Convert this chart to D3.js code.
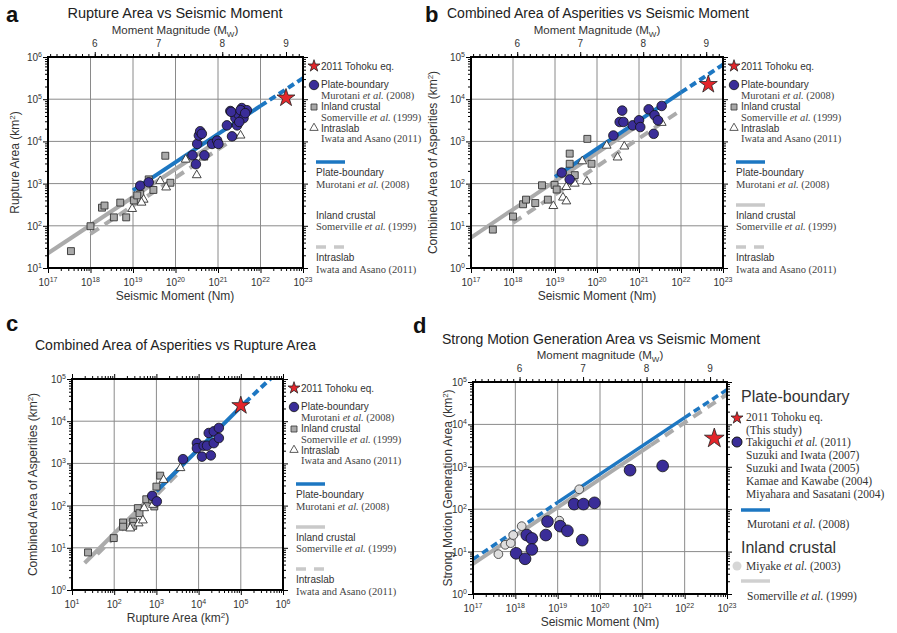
<!DOCTYPE html>
<html>
<head>
<meta charset="utf-8">
<script src="https://cdn.jsdelivr.net/npm/d3@7"></script>
<style>
  body { margin: 0; background: #fff; }
</style>
</head>
<body>
<svg id="fig" width="897" height="633"></svg>
<script>
// ---- data, all values as log10 (x, y) ----
// panel a : rupture area (km2) vs seismic moment (Nm)
var aCircles = [[19.17,2.95],[19.37,3.03],[20.40,3.67],[20.48,3.46],[20.51,3.94],[20.55,4.14],[20.58,4.24],[20.62,4.18],
  [20.68,3.67],[20.86,3.94],[20.98,4.02],[21.01,3.94],[21.21,4.38],[21.33,4.12],[21.29,4.72],[21.41,4.55],[21.45,4.38],
  [21.49,4.63],[21.56,4.79],[21.60,4.55],[21.68,4.74],[21.50,4.46],[21.31,4.70],[21.53,4.74],[21.64,4.67]];
var aSquares = [[17.54,1.40],[18.00,1.99],[18.27,2.43],[18.33,2.48],[18.70,2.55],[18.55,2.20],[18.84,2.20],[19.02,2.60],
  [19.17,2.75],[19.37,3.10],[19.48,2.85],[19.88,3.02],[19.76,3.66],[19.10,2.72]];
var aTriangles = [[18.98,2.40],[19.25,2.62],[19.20,2.55],[19.64,3.06],[19.78,2.91],[20.24,3.57],[20.50,3.20],[20.66,3.62],[21.53,4.14]];
var aStar = [[22.60,5.03]];
var aBlueSolid = [[19.0,2.84],[22.0,4.84]];
var aBlueDash = [[22.0,4.84],[23.0,5.50]];
var aGraySolid = [[17.0,1.35],[20.8,3.88]];
var aGrayDash = [[18.0,1.81],[21.6,4.21]];

// panel b : combined area of asperities (km2) vs seismic moment (Nm)
var bCircles = [[19.16,2.26],[19.35,2.10],[20.39,3.14],[20.60,3.73],[20.54,3.46],[20.63,3.46],[20.85,3.38],[21.00,3.50],
  [21.03,3.34],[21.23,3.76],[21.35,3.18],[21.37,3.62],[21.45,3.50],[21.54,3.84]];
var bSquares = [[17.52,0.91],[18.00,1.22],[18.24,1.51],[18.31,1.62],[18.53,1.54],[18.69,1.96],[18.83,1.62],[18.99,1.97],
  [19.04,1.86],[19.35,2.71],[19.35,2.47],[19.47,2.20],[19.87,2.47],[19.77,3.06]];
var bTriangles = [[18.96,1.47],[19.19,1.67],[19.27,1.58],[19.27,1.92],[19.47,2.00],[19.65,2.53],[19.76,2.05],[20.23,2.90],
  [20.49,2.62],[20.65,2.88],[21.54,3.44]];
var bStar = [[22.65,4.35]];
var bBlueSolid = [[19.0,2.16],[22.0,4.16]];
var bBlueDash = [[22.0,4.16],[23.0,4.82]];
var bGraySolid = [[17.0,0.72],[21.0,3.39]];
var bGrayDash = [[18.0,1.07],[22.0,3.74]];

// panel c : combined area of asperities vs rupture area (km2)
var cCircles = [[2.90,2.23],[3.01,2.10],[3.63,3.10],[3.96,3.48],[3.96,3.36],[4.08,3.16],[4.12,3.42],[4.20,3.42],[4.24,3.72],
  [4.36,3.76],[4.36,3.48],[4.48,3.84],[4.48,3.60],[4.29,3.19]];
var cSquares = [[1.38,0.89],[1.99,1.23],[2.21,1.60],[2.21,1.50],[2.45,1.62],[2.45,1.52],[2.56,1.94],[2.60,1.82],[2.76,2.15],
  [2.90,2.14],[2.95,1.98],[3.00,2.45],[3.09,2.71]];
var cTriangles = [[2.38,1.46],[2.58,1.58],[2.68,1.65],[2.71,1.94],[2.92,2.02],[3.17,2.61],[3.57,2.89]];
var cStar = [[5.00,4.37]];
var cBlueSolid = [[3.0,2.34],[5.1,4.44]];
var cBlueDash = [[5.1,4.44],[5.75,5.05]];
var cGraySolid = [[1.3,0.64],[3.6,2.94]];
var cGrayDash = [[1.6,0.85],[3.6,2.85]];

// panel d : strong motion generation area (km2) vs seismic moment (Nm)
var dCircles = [[18.02,0.96],[18.23,0.83],[18.27,1.39],[18.39,1.31],[18.39,1.05],[18.72,1.39],[18.76,1.71],[19.06,1.60],
  [19.23,1.49],[19.39,2.12],[19.61,2.12],[19.87,2.15],[19.58,1.27],[20.71,2.92],[21.48,3.02]];
var dMiyake = [[17.60,0.94],[17.76,1.16],[17.89,1.20],[17.95,1.39],[18.15,1.60],[19.04,1.73],[19.51,2.47]];
var dStar = [[22.70,3.67]];
var dBlueDashL = [[17.0,0.82],[19.0,2.16]];
var dBlueSolid = [[19.0,2.16],[22.0,4.16]];
var dBlueDashR = [[22.0,4.16],[23.0,4.82]];
var dGraySolid = [[17.0,0.71],[21.2,3.51]];
var dGrayDash = [[21.2,3.51],[23.0,4.71]];

var mwMajor = [6, 7, 8, 9];

// ---- styling ----
var svg = d3.select('#fig');
var SANS = "'Liberation Sans', Arial, Helvetica, sans-serif";
var SERIF = "'Liberation Serif', 'Times New Roman', serif";
var BLUE = '#1d77c2', GRAY = '#ababab', LGRAY = '#c9c9c9', PURPLE = '#3a2d98', RED = '#e3262b';
var TXT = '#333';

var lineStyles = {
  blue:     {stroke: BLUE, w: 4, dash: null},
  blueDash: {stroke: BLUE, w: 4, dash: '7,4'},
  gray:     {stroke: GRAY, w: 4, dash: null},
  grayDash: {stroke: GRAY, w: 4, dash: '10,7'}
};

function mwOf(logm0) { return (logm0 - 9.1) / 1.5; }

function sup(sel, base, e, fs) {
  sel.append('tspan').text(base);
  sel.append('tspan').attr('dy', -4).attr('font-size', fs || 7).text(e);
}

function cite(sel, str) {
  var parts = str.split('et al.');
  sel.append('tspan').text(parts[0]);
  if (parts.length > 1) {
    sel.append('tspan').attr('font-style', 'italic').text('et al.');
    sel.append('tspan').text(parts[1]);
  }
}

function drawPanel(p) {
  var x = d3.scaleLog().domain(p.xdom).range([p.x0, p.x1]);
  var y = d3.scaleLog().domain(p.ydom).range([p.y1, p.y0]);
  var g = svg.append('g');
  var xlo = Math.round(Math.log10(p.xdom[0])), xhi = Math.round(Math.log10(p.xdom[1]));
  var ylo = Math.round(Math.log10(p.ydom[0])), yhi = Math.round(Math.log10(p.ydom[1]));
  var xDec = d3.range(xlo, xhi + 1), yDec = d3.range(ylo, yhi + 1);
  var xMinor = [], yMinor = [];
  xDec.slice(0, -1).forEach(function(e) { for (var k = 2; k < 10; k++) xMinor.push(k * Math.pow(10, e)); });
  yDec.slice(0, -1).forEach(function(e) { for (var k = 2; k < 10; k++) yMinor.push(k * Math.pow(10, e)); });
  var xMaj = xDec.map(function(e) { return Math.pow(10, e); });
  var yMaj = yDec.map(function(e) { return Math.pow(10, e); });

  // grid
  g.selectAll('.gx').data(xMaj).enter().append('line')
    .attr('x1', function(d) { return x(d); }).attr('x2', function(d) { return x(d); })
    .attr('y1', p.y0).attr('y2', p.y1).attr('stroke', '#8a8a8a').attr('stroke-width', 1);
  g.selectAll('.gy').data(yMaj).enter().append('line')
    .attr('y1', function(d) { return y(d); }).attr('y2', function(d) { return y(d); })
    .attr('x1', p.x0).attr('x2', p.x1).attr('stroke', '#8a8a8a').attr('stroke-width', 1);

  // clip
  var cid = 'clip' + p.id;
  svg.append('clipPath').attr('id', cid).append('rect')
    .attr('x', p.x0).attr('y', p.y0).attr('width', p.x1 - p.x0).attr('height', p.y1 - p.y0);

  var line = d3.line()
    .x(function(d) { return x(Math.pow(10, d[0])); })
    .y(function(d) { return y(Math.pow(10, d[1])); });
  var lg = g.append('g').attr('clip-path', 'url(#' + cid + ')');
  p.lines.forEach(function(l) {
    var st = lineStyles[l.style];
    lg.append('path').datum(l.pts).attr('d', line)
      .attr('fill', 'none').attr('stroke', st.stroke).attr('stroke-width', l.w || st.w)
      .attr('stroke-dasharray', st.dash);
  });

  // markers
  p.marks.forEach(function(m) {
    g.selectAll(null).data(m.data).enter().append('path')
      .attr('d', d3.symbol().type(m.type).size(m.size))
      .attr('transform', function(d) {
        return 'translate(' + x(Math.pow(10, d[0])) + ',' + y(Math.pow(10, d[1])) + ')';
      })
      .attr('fill', m.fill).attr('stroke', m.stroke).attr('stroke-width', m.sw || 0.8);
  });

  // frame
  g.append('rect').attr('x', p.x0).attr('y', p.y0).attr('width', p.x1 - p.x0).attr('height', p.y1 - p.y0)
    .attr('fill', 'none').attr('stroke', '#000').attr('stroke-width', 2);

  function ticks(axis, tr) {
    g.append('g').attr('transform', tr).call(axis)
      .call(function(s) { s.select('.domain').remove(); })
      .selectAll('line').attr('stroke', '#000');
  }
  ticks(d3.axisBottom(x).tickValues(xMaj).tickSize(5).tickFormat(''), 'translate(0,' + p.y1 + ')');
  ticks(d3.axisBottom(x).tickValues(xMinor).tickSize(3).tickFormat(''), 'translate(0,' + p.y1 + ')');
  ticks(d3.axisLeft(y).tickValues(yMaj).tickSize(5).tickFormat(''), 'translate(' + p.x0 + ',0)');
  ticks(d3.axisLeft(y).tickValues(yMinor).tickSize(3).tickFormat(''), 'translate(' + p.x0 + ',0)');
  ticks(d3.axisRight(y).tickValues(yMaj).tickSize(5).tickFormat(''), 'translate(' + p.x1 + ',0)');
  ticks(d3.axisRight(y).tickValues(yMinor).tickSize(3).tickFormat(''), 'translate(' + p.x1 + ',0)');

  if (p.mw) {
    var mw = d3.scaleLinear().domain([mwOf(xlo), mwOf(xhi)]).range([p.x0, p.x1]);
    var mwMinor = d3.range(53, 93).map(function(v) { return v / 10; });
    ticks(d3.axisTop(mw).tickValues(mwMajor).tickSize(5).tickFormat(''), 'translate(0,' + p.y0 + ')');
    ticks(d3.axisTop(mw).tickValues(mwMinor).tickSize(3).tickFormat(''), 'translate(0,' + p.y0 + ')');
    g.selectAll('.mwl').data(mwMajor).enter().append('text')
      .attr('x', function(d) { return mw(d); }).attr('y', p.y0 - 10)
      .attr('text-anchor', 'middle').attr('font-family', SANS).attr('font-size', 10).attr('fill', TXT)
      .text(function(d) { return d; });
    var mt = g.append('text').attr('x', p.cx).attr('y', p.y0 - 23).attr('text-anchor', 'middle')
      .attr('font-family', SANS).attr('font-size', 11.5).attr('fill', TXT);
    mt.append('tspan').text(p.mwTitle);
    mt.append('tspan').attr('dy', 3).attr('font-size', 8).text('W');
    mt.append('tspan').attr('dy', -3).text(')');
  } else {
    ticks(d3.axisTop(x).tickValues(xMaj).tickSize(5).tickFormat(''), 'translate(0,' + p.y0 + ')');
    ticks(d3.axisTop(x).tickValues(xMinor).tickSize(3).tickFormat(''), 'translate(0,' + p.y0 + ')');
  }

  // tick labels
  xDec.forEach(function(e) {
    var t = g.append('text').attr('x', x(Math.pow(10, e))).attr('y', p.y1 + 18).attr('text-anchor', 'middle')
      .attr('font-family', SANS).attr('font-size', 10).attr('fill', TXT);
    sup(t, '10', e);
  });
  yDec.forEach(function(e) {
    var t = g.append('text').attr('x', p.x0 - 6).attr('y', y(Math.pow(10, e)) + 4).attr('text-anchor', 'end')
      .attr('font-family', SANS).attr('font-size', 10).attr('fill', TXT);
    sup(t, '10', e);
  });

  // titles
  g.append('text').attr('x', p.letter[0]).attr('y', p.letter[1]).attr('font-family', SANS)
    .attr('font-size', 22).attr('font-weight', 'bold').attr('fill', '#111').text(p.id);
  g.append('text').attr('x', p.titlePos[0]).attr('y', p.titlePos[1]).attr('text-anchor', p.titleAnchor || 'middle')
    .attr('font-family', SANS).attr('font-size', p.titleSize).attr('fill', '#222').text(p.title);
  var xl = g.append('text').attr('x', p.cx).attr('y', p.y1 + 32).attr('text-anchor', 'middle')
    .attr('font-family', SANS).attr('font-size', 12).attr('fill', TXT);
  xl.append('tspan').text(p.xlabel[0]);
  if (p.xlabel.length > 1) {
    xl.append('tspan').attr('dy', -4).attr('font-size', 8).text(p.xlabel[1]);
    xl.append('tspan').attr('dy', 4).text(p.xlabel[2]);
  }
  var yl = g.append('text').attr('transform', 'translate(' + p.ylabelX + ',' + ((p.y0 + p.y1) / 2) + ') rotate(-90)')
    .attr('text-anchor', 'middle').attr('font-family', SANS).attr('font-size', 12).attr('fill', TXT);
  yl.append('tspan').text(p.ylabel[0]);
  yl.append('tspan').attr('dy', -4).attr('font-size', 8).text(p.ylabel[1]);
  yl.append('tspan').attr('dy', 4).text(p.ylabel[2]);
}

var starMark = function(d, size) { return {data: d, type: d3.symbolStar, size: size, fill: RED, stroke: '#222', sw: 0.8}; };
var circMark = function(d, size) { return {data: d, type: d3.symbolCircle, size: size, fill: PURPLE, stroke: '#111', sw: 0.8}; };
var sqMark = function(d) { return {data: d, type: d3.symbolSquare, size: 48, fill: '#a9a9a9', stroke: '#333', sw: 0.9}; };
var triMark = function(d) { return {data: d, type: d3.symbolTriangle, size: 34, fill: '#fff', stroke: '#333', sw: 0.9}; };

var panels = [
  {id: 'a', x0: 48, x1: 303, y0: 57, y1: 268, cx: 175, xdom: [1e17, 1e23], ydom: [1e1, 1e6], mw: true,
   mwTitle: 'Moment Magnitude (M', letter: [6, 22], title: 'Rupture Area vs Seismic Moment', titlePos: [175, 18], titleSize: 14.5,
   xlabel: ['Seismic Moment (Nm)'], ylabel: ['Rupture Area (km', '2', ')'], ylabelX: 19,
   lines: [{pts: aGraySolid, style: 'gray'}, {pts: aGrayDash, style: 'grayDash'},
           {pts: aBlueSolid, style: 'blue'}, {pts: aBlueDash, style: 'blueDash'}],
   marks: [sqMark(aSquares), triMark(aTriangles), circMark(aCircles, 72), starMark(aStar, 100)]},
  {id: 'b', x0: 471, x1: 723, y0: 57, y1: 268, cx: 597, xdom: [1e17, 1e23], ydom: [1e0, 1e5], mw: true,
   mwTitle: 'Moment Magnitude (M', letter: [425, 22], title: 'Combined Area of Asperities vs Seismic Moment',
   titlePos: [447, 18], titleAnchor: 'start', titleSize: 14,
   xlabel: ['Seismic Moment (Nm)'], ylabel: ['Combined Area of Asperities (km', '2', ')'], ylabelX: 437,
   lines: [{pts: bGraySolid, style: 'gray'}, {pts: bGrayDash, style: 'grayDash'},
           {pts: bBlueSolid, style: 'blue'}, {pts: bBlueDash, style: 'blueDash'}],
   marks: [sqMark(bSquares), triMark(bTriangles), circMark(bCircles, 72), starMark(bStar, 100)]},
  {id: 'c', x0: 72, x1: 283, y0: 379, y1: 590, cx: 178, xdom: [1e1, 1e6], ydom: [1e0, 1e5], mw: false,
   letter: [6, 331], title: 'Combined Area of Asperities vs Rupture Area', titlePos: [35, 350], titleAnchor: 'start', titleSize: 14,
   xlabel: ['Rupture Area (km', '2', ')'], ylabel: ['Combined Area of Asperities (km', '2', ')'], ylabelX: 37,
   lines: [{pts: cGraySolid, style: 'gray'}, {pts: cGrayDash, style: 'grayDash'},
           {pts: cBlueSolid, style: 'blue'}, {pts: cBlueDash, style: 'blueDash'}],
   marks: [sqMark(cSquares), triMark(cTriangles), circMark(cCircles, 72), starMark(cStar, 100)]},
  {id: 'd', x0: 473, x1: 727, y0: 382, y1: 594, cx: 600, xdom: [1e17, 1e23], ydom: [1e0, 1e5], mw: true,
   mwTitle: 'Moment magnitude (M', letter: [413, 333], title: 'Strong Motion Generation Area vs Seismic Moment',
   titlePos: [442, 344], titleAnchor: 'start', titleSize: 14,
   xlabel: ['Seismic Moment (Nm)'], ylabel: ['Strong Motion Generation Area (km', '2', ')'], ylabelX: 452,
   lines: [{pts: dGraySolid, style: 'gray'}, {pts: dGrayDash, style: 'grayDash'},
           {pts: dBlueDashL, style: 'blueDash', w: 3.5}, {pts: dBlueSolid, style: 'blue', w: 3.5}, {pts: dBlueDashR, style: 'blueDash', w: 3.5}],
   marks: [{data: dMiyake, type: d3.symbolCircle, size: 60, fill: '#dedede', stroke: '#444', sw: 0.9},
           circMark(dCircles, 108), starMark(dStar, 120)]}
];

panels.forEach(drawPanel);

// legends for a, b, c
function stdLegend(p, showGray) {
  var bx = p.x1, ty = p.y0;
  var g = svg.append('g');
  function sym(type, size, fill, stroke, yy) {
    g.append('path').attr('d', d3.symbol().type(type).size(size))
      .attr('transform', 'translate(' + (bx + 11) + ',' + (ty + yy) + ')')
      .attr('fill', fill).attr('stroke', stroke).attr('stroke-width', 0.8);
  }
  function sans(txt, xx, yy) {
    g.append('text').attr('x', bx + xx).attr('y', ty + yy).attr('dy', '0.35em')
      .attr('font-family', SANS).attr('font-size', 10).attr('fill', TXT).text(txt);
  }
  function serif(txt, xx, yy) {
    var t = g.append('text').attr('x', bx + xx).attr('y', ty + yy).attr('dy', '0.35em')
      .attr('font-family', SERIF).attr('font-size', 10.5).attr('fill', '#444');
    cite(t, txt);
  }
  function seg(yy, color, dash) {
    g.append('line').attr('x1', bx + 13).attr('x2', bx + 42).attr('y1', ty + yy).attr('y2', ty + yy)
      .attr('stroke', color).attr('stroke-width', 3.5).attr('stroke-dasharray', dash);
  }
  sym(d3.symbolStar, 45, RED, '#222', 9); sans('2011 Tohoku eq.', 18, 9);
  sym(d3.symbolCircle, 70, PURPLE, '#111', 28); sans('Plate-boundary', 18, 27.5); serif('Murotani et al. (2008)', 18, 38.5);
  sym(d3.symbolSquare, 36, '#a9a9a9', '#333', 50); sans('Inland crustal', 18, 49.5); serif('Somerville et al. (1999)', 18, 60.5);
  sym(d3.symbolTriangle, 30, '#fff', '#333', 71); sans('Intraslab', 18, 71); serif('Iwata and Asano (2011)', 18, 81.5);
  seg(105, BLUE, null); sans('Plate-boundary', 13, 115); serif('Murotani et al. (2008)', 13, 127.5);
  if (showGray) seg(148, LGRAY, null);
  sans('Inland crustal', 13, 158); serif('Somerville et al. (1999)', 13, 169.5);
  seg(190, LGRAY, '10,8'); sans('Intraslab', 13, 200); serif('Iwata and Asano (2011)', 13, 212);
}
stdLegend(panels[0], false);
stdLegend(panels[1], true);
stdLegend(panels[2], true);

// legend for d
(function() {
  var g = svg.append('g');
  function head(txt, yy) {
    g.append('text').attr('x', 741).attr('y', yy).attr('dy', '0.35em').attr('font-family', SANS)
      .attr('font-size', 16).attr('fill', TXT).text(txt);
  }
  function serif(txt, xx, yy) {
    var t = g.append('text').attr('x', xx).attr('y', yy).attr('dy', '0.35em')
      .attr('font-family', SERIF).attr('font-size', 11.5).attr('fill', '#333');
    cite(t, txt);
  }
  head('Plate-boundary', 396);
  g.append('path').attr('d', d3.symbol().type(d3.symbolStar).size(45)).attr('transform', 'translate(737,418)')
    .attr('fill', RED).attr('stroke', '#222').attr('stroke-width', 0.8);
  serif('2011 Tohoku eq.', 746, 417);
  serif('(This study)', 746, 429.5);
  g.append('circle').attr('cx', 737).attr('cy', 442).attr('r', 5).attr('fill', PURPLE).attr('stroke', '#111');
  ['Takiguchi et al. (2011)', 'Suzuki and Iwata (2007)', 'Suzuki and Iwata (2005)',
   'Kamae and Kawabe (2004)', 'Miyahara and Sasatani (2004)'].forEach(function(s, i) {
    serif(s, 746, 442 + i * 13);
  });
  g.append('line').attr('x1', 741).attr('x2', 770).attr('y1', 510).attr('y2', 510)
    .attr('stroke', BLUE).attr('stroke-width', 3.5);
  serif('Murotani et al. (2008)', 747, 524);
  head('Inland crustal', 547);
  g.append('circle').attr('cx', 737).attr('cy', 566).attr('r', 4.5).attr('fill', '#d6d6d6');
  serif('Miyake  et al. (2003)', 746, 566);
  g.append('line').attr('x1', 741).attr('x2', 770).attr('y1', 581).attr('y2', 581)
    .attr('stroke', '#d0d0d0').attr('stroke-width', 3.5);
  serif('Somerville et al. (1999)', 747, 596);
})();
</script>
</body>
</html>
